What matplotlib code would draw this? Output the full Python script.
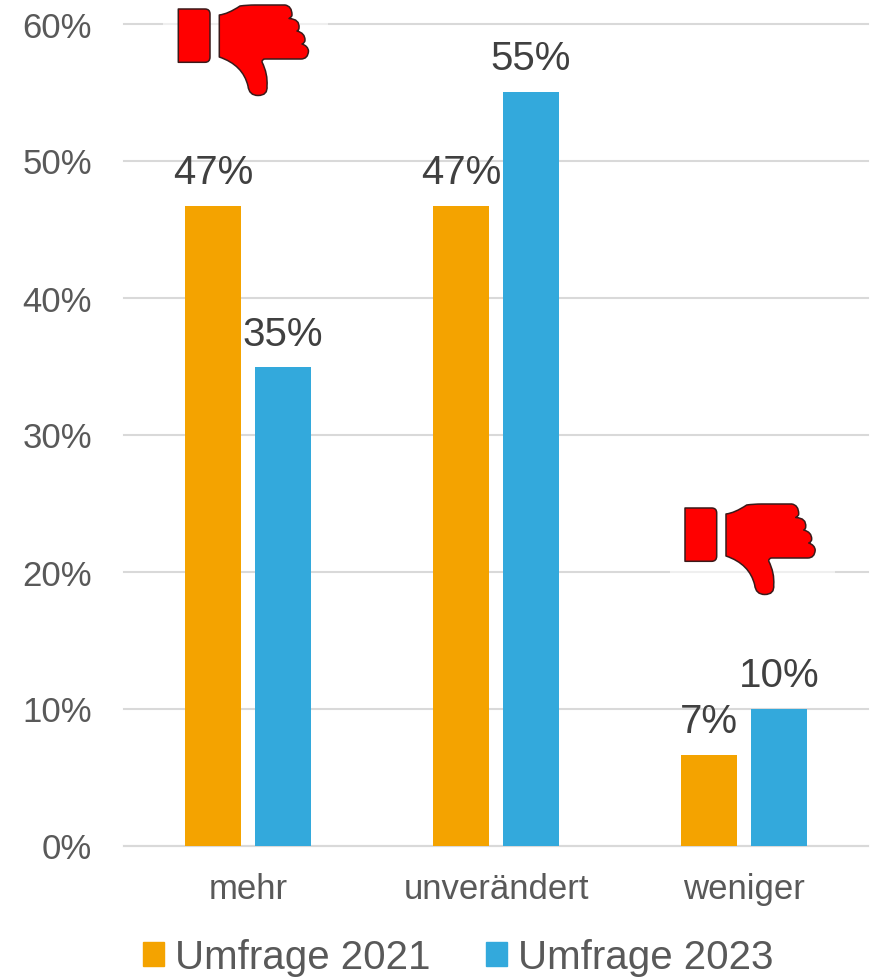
"""Umfrage 2021 vs 2023: grouped bars with thumbs-down icons."""
import matplotlib
matplotlib.use("Agg")
import matplotlib.pyplot as plt
from matplotlib.patches import Patch, PathPatch, Rectangle
from matplotlib.path import Path

plt.rcParams["font.family"] = ["Liberation Sans", "DejaVu Sans"]

categories = ["mehr", "unverändert", "weniger"]
series_names = ["Umfrage 2021", "Umfrage 2023"]
values_2021 = [46.7, 46.7, 6.6]
values_2023 = [34.9, 55.0, 10.0]
labels_2021 = ["47%", "47%", "7%"]
labels_2023 = ["35%", "55%", "10%"]
yticks = [0, 10, 20, 30, 40, 50, 60]

ORANGE = "#F4A300"; BLUE = "#33A9DC"; GRID = "#D9D9D9"
TICK = "#595959"; LABEL = "#404040"
W, H = 872, 979

fig = plt.figure(figsize=(W / 100, H / 100), dpi=100, facecolor="white")
ax = fig.add_axes([124 / W, (H - 846.5) / H, 744 / W, 822 / H])

bar_w, off = 56 / 248, 35 / 248
xs = range(len(categories))
bars1 = ax.bar([x - off for x in xs], values_2021, bar_w, color=ORANGE, zorder=3)
bars2 = ax.bar([x + off for x in xs], values_2023, bar_w, color=BLUE, zorder=3)

for bars, labels in ((bars1, labels_2021), (bars2, labels_2023)):
    ax.bar_label(bars, labels=labels, padding=10.5, fontsize=29, color=LABEL, zorder=4)

ax.set_xlim(-0.5, 2.5)
ax.set_ylim(0, 60)
ax.set_xticks(list(xs), categories)
ax.set_yticks(yticks, [f"{t}%" for t in yticks])
ax.tick_params(axis="x", length=0, pad=19, labelsize=25, labelcolor=TICK)
ax.tick_params(axis="y", length=0, pad=23, labelsize=25, labelcolor=TICK)
ax.grid(axis="y", color=GRID, linewidth=1.5, zorder=0, clip_on=False)
ax.set_axisbelow(True)
for s in ("top", "left", "right"):
    ax.spines[s].set_visible(False)
ax.spines["bottom"].set_color(GRID)
ax.spines["bottom"].set_linewidth(1.5)

fig.legend(handles=[Patch(color=ORANGE, label=series_names[0]),
                    Patch(color=BLUE, label=series_names[1])],
           loc="center", bbox_to_anchor=(458 / W, (H - 958) / H), ncol=2, frameon=False,
           fontsize=29, labelcolor=TICK, handlelength=0.525, handleheight=0.525,
           handletextpad=0.275, columnspacing=1.37, borderpad=0, borderaxespad=0)

# icons, drawn in image pixels
over = fig.add_axes([0, 0, 1, 1], zorder=10)
over.set_xlim(0, W); over.set_ylim(H, 0); over.axis("off")

M, L, Q, Z = Path.MOVETO, Path.LINETO, Path.CURVE3, Path.CLOSEPOLY
CUFF = [(M, 178.3, 10), (L, 205, 10), (Q, 210, 10), (Q, 210, 15), (L, 210, 58), (Q, 210, 63.3),
        (Q, 205, 63.3), (L, 178.3, 63.3), (Z, 178.3, 10)]
HAND = [(M, 219.3, 16), (Q, 228, 15), (Q, 240, 7), (Q, 247, 6), (Q, 255, 6), (L, 285, 6),
        (Q, 292, 7), (Q, 292, 16), (Q, 292, 18), (Q, 289, 19.5),
        (Q, 300, 20), (Q, 299, 29), (Q, 299, 31), (Q, 297, 32),
        (Q, 305, 34), (Q, 305, 41), (Q, 305, 44), (Q, 302, 45),
        (Q, 308, 47), (Q, 308.5, 52), (Q, 308, 60), (Q, 301, 60), (L, 265, 60),
        (Q, 262, 60), (Q, 262, 63), (Q, 268, 75), (Q, 267, 87), (Q, 268, 96.5), (Q, 258, 96.5),
        (Q, 249, 96.5), (Q, 248, 87), (Q, 243, 66), (Q, 219.3, 58), (Z, 219.3, 16)]


def thumb(dx, dy):
    over.add_patch(Rectangle((163 + dx, 0 + dy), 165, 100, facecolor="white", alpha=0.6, linewidth=0))
    for pts in (CUFF, HAND):
        verts = [(x + dx, y + dy) for _, x, y in pts]
        codes = [c for c, _, _ in pts]
        over.add_patch(PathPatch(Path(verts, codes), facecolor="#FF0000", edgecolor="#3A1A1A",
                                 linewidth=1.1, joinstyle="round"))


thumb(0, 0)
thumb(506.7, 499)

fig.savefig("out.png", dpi=100)
